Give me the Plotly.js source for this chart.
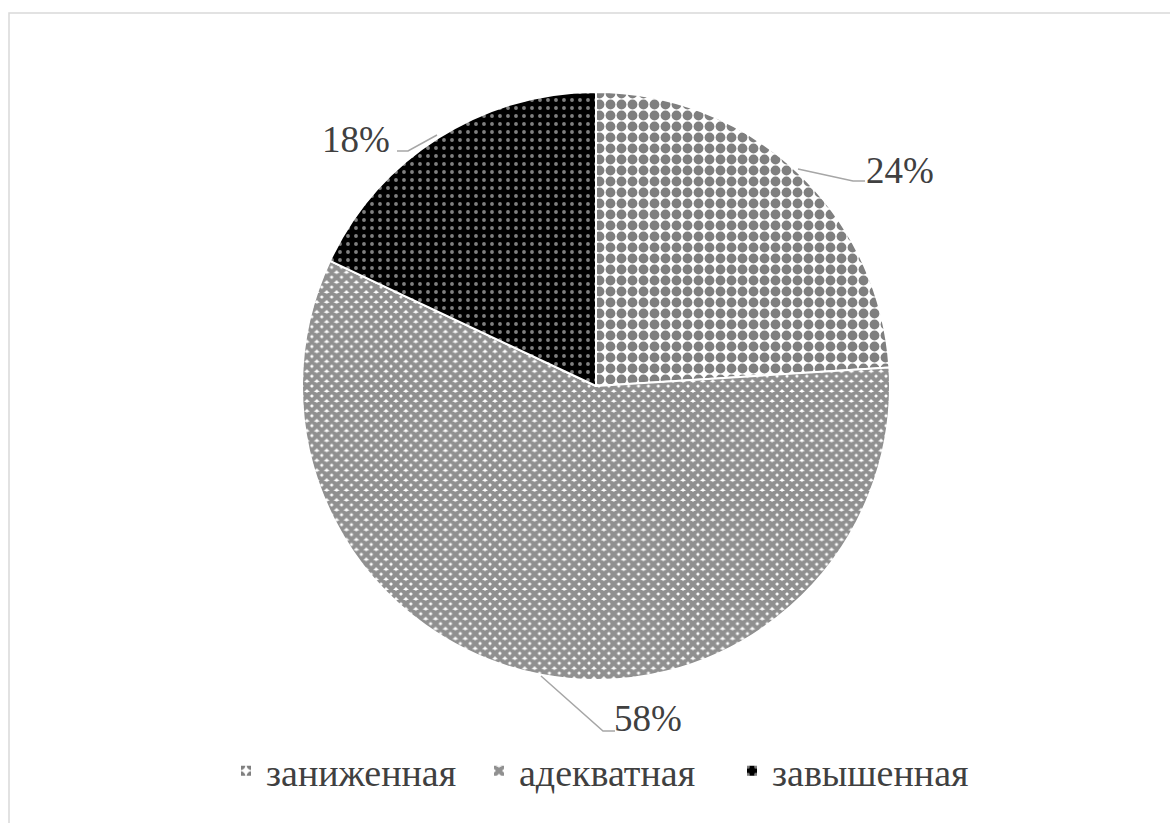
<!DOCTYPE html>
<html><head><meta charset="utf-8">
<script src="https://cdn.plot.ly/plotly-3.0.1.min.js"></script>
<style>html,body{margin:0;padding:0;background:#fff;}#chart{width:1170px;height:823px;}</style>
</head><body><div id="chart"></div>
<script>
const categories = ["заниженная", "адекватная", "завышенная"];
const values = [24, 58, 18];
const labelTexts = values.map(v => v + "%");

const W = 1170, H = 823;
const px = x => x / W;
const py = y => 1 - y / H;
const SERIF = "Liberation Serif";

// label placements (pixels) and leader-line paths (pixels)
const labelPos = [[900, 170], [648, 718], [356, 139]];
const leaders = [
  [[798,169],[853,181],[865,181]],
  [[541,676],[603,731],[615,731]],
  [[437,135],[408,151],[397,151]]
];

const trace = {
  type: "pie",
  labels: categories,
  values: values,
  sort: false,
  direction: "clockwise",
  rotation: 0,
  textinfo: "none",
  hoverinfo: "label+percent",
  domain: {x: [px(302), px(890)], y: [py(680), py(92)]},
  marker: {
    colors: ["#ffffff", "#ffffff", "#000000"],
    line: {color: "#ffffff", width: 2},
    pattern: {
      shape: [".", "x", "."],
      fgcolor: ["#000000", "#222222", "#ffffff"],
      bgcolor: ["#ffffff", "#ffffff", "#000000"],
      size: [11, 7, 8],
      solidity: [0.62, 0.85, 0.18],
      fillmode: "overlay"
    }
  }
};

const shapes = leaders.map(pts => ({
  type: "path",
  xref: "paper", yref: "paper",
  path: pts.map((p, i) => (i ? "L" : "M") + px(p[0]) + "," + py(p[1])).join(" "),
  line: {color: "#a6a6a6", width: 1.5}
}));
shapes.push({
  type: "rect", xref: "paper", yref: "paper",
  x0: px(9), x1: 1.02, y0: -0.02, y1: py(13),
  line: {color: "#d9d9d9", width: 1.5}, fillcolor: "rgba(0,0,0,0)"
});

const annotations = labelTexts.map((t, i) => ({
  text: t, xref: "paper", yref: "paper",
  x: px(labelPos[i][0]), y: py(labelPos[i][1]),
  xanchor: "center", yanchor: "middle", showarrow: false,
  font: {family: SERIF, size: 37, color: "#404040"}
}));

const layout = {
  width: W, height: H,
  margin: {l: 0, r: 0, t: 0, b: 0},
  paper_bgcolor: "#ffffff",
  font: {family: SERIF},
  showlegend: true,
  legend: {
    orientation: "h", x: px(226), xanchor: "left", y: py(771), yanchor: "middle",
    font: {family: SERIF, size: 38, color: "#404040"},
    itemwidth: 30, entrywidth: 208, entrywidthmode: "pixels", traceorder: "normal"
  },
  shapes: shapes,
  annotations: annotations
};

Plotly.newPlot("chart", [trace], layout, {displayModeBar: false, staticPlot: true});
</script></body></html>
